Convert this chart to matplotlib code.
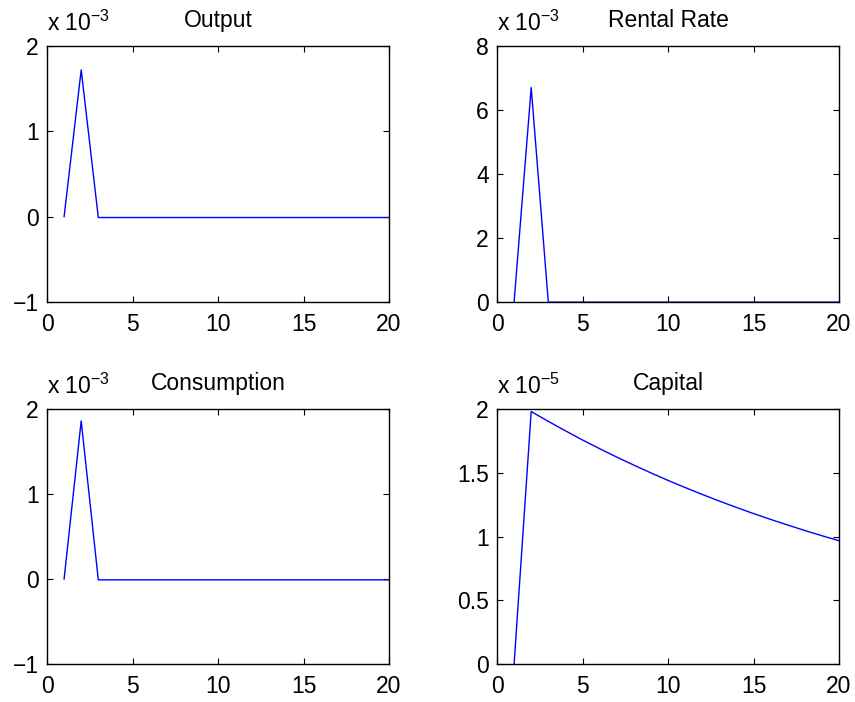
import matplotlib.pyplot as plt
import numpy as np

plt.rcParams['font.family'] = ['Liberation Sans', 'DejaVu Sans']
plt.rcParams['mathtext.default'] = 'regular'

periods = np.arange(1, 21)

# impulse responses (in units of the axis multiplier)
output = [0, 1.72] + [-0.01] * 18
rental_rate = [0, 6.7] + [-0.005] * 18
consumption = [0, 1.86] + [-0.01] * 18
capital = [0, 1.980, 1.903, 1.829, 1.757, 1.689, 1.623, 1.560, 1.499, 1.440,
           1.384, 1.330, 1.278, 1.228, 1.180, 1.134, 1.090, 1.047, 1.006, 0.967]

titles = ['Output', 'Rental Rate', 'Consumption', 'Capital']
series = [output, rental_rate, consumption, capital]
exponents = ['3', '3', '3', '5']
ylims = [(-1, 2), (0, 8), (-1, 2), (0, 2)]
yticks = [[-1, 0, 1, 2], [0, 2, 4, 6, 8], [-1, 0, 1, 2], [0, 0.5, 1, 1.5, 2]]
ytick_labels = [['\u22121', '0', '1', '2'], ['0', '2', '4', '6', '8'],
                ['\u22121', '0', '1', '2'], ['0', '0.5', '1', '1.5', '2']]

fig = plt.figure(figsize=(8.55, 7.02), dpi=100)
W, H = 855, 702
# axes boxes in pixels: left, top, right, bottom
boxes = [(47, 46, 389, 302), (497, 46, 839, 302),
         (47, 409, 389, 664), (497, 409, 839, 664)]

for i in range(4):
    l, t, r, b = boxes[i]
    ax = fig.add_axes([l / W, 1 - b / H, (r - l) / W, (b - t) / H])
    ax.plot(periods, series[i], color='#0000ff', linewidth=1.0)
    ax.set_xlim(0, 20)
    ax.set_ylim(*ylims[i])
    ax.set_xticks([0, 5, 10, 15, 20])
    ax.set_yticks(yticks[i])
    ax.set_yticklabels(ytick_labels[i])
    ax.tick_params(direction='in', length=4, width=0.8, top=True, right=True,
                   labelsize=16.5, pad=6)
    ax.tick_params(axis='x', pad=8)
    for s in ax.spines.values():
        s.set_linewidth(1.0)
    ax.set_title(titles[i], fontsize=16.5, pad=14)
    ax.text(0.0, 1.04, 'x 10$^{\u2212' + exponents[i] + '}$',
            transform=ax.transAxes, fontsize=16.5, ha='left', va='bottom')

fig.savefig('out.png', dpi=100)
